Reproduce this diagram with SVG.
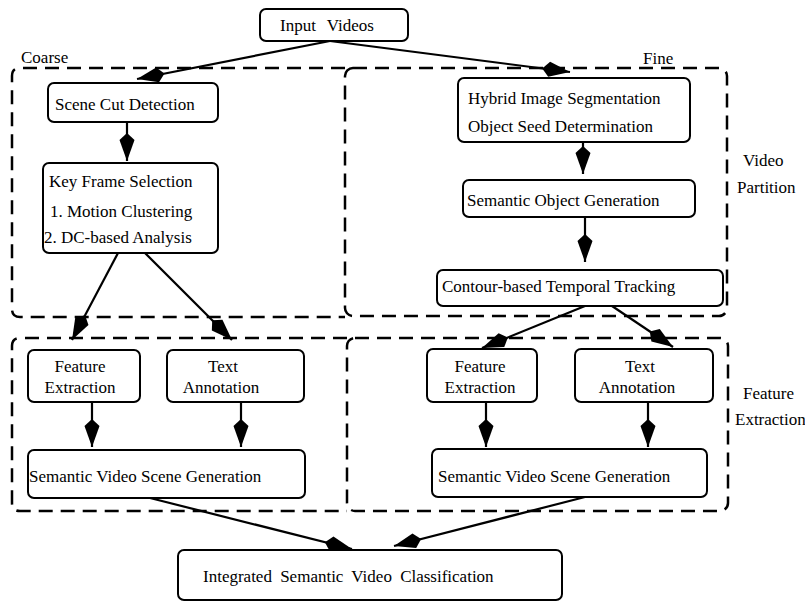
<svg xmlns="http://www.w3.org/2000/svg" width="805" height="602" viewBox="0 0 805 602">
  <style>
    text { font-family: "Liberation Serif", "Times New Roman", serif; font-size: 17px; fill: #000; }
    .box { fill: #fff; stroke: #000; stroke-width: 2; }
    .region { fill: none; stroke: #000; stroke-width: 2.5; stroke-dasharray: 14 8; }
    .edge { fill: none; stroke: #000; stroke-width: 2.2; marker-end: url(#kite); }
    .mid { text-anchor: middle; }
  </style>
  <defs>
    <marker id="kite" markerUnits="userSpaceOnUse" viewBox="0 -8 28 16" refX="28" refY="0" markerWidth="28" markerHeight="16" orient="auto">
      <path d="M0,0 L7,-7.5 L28,0 L7,7.5 Z" fill="#000"/>
    </marker>
  </defs>

  <!-- dashed regions -->
  <g id="regions">
    <path class="region" d="M345,68 H20 Q12,68 12,76 V309 Q12,317 20,317 H345"/>
    <rect class="region" x="345" y="68" width="382" height="248" rx="8"/>
    <path class="region" d="M347,338 H20 Q12,338 12,346 V503 Q12,511 20,511 H347"/>
    <rect class="region" x="347" y="338" width="381" height="173" rx="8"/>
    <text x="21" y="63" font-size="16">Coarse</text>
    <text x="643" y="64">Fine</text>
    <text x="743" y="166" font-size="18">Video</text>
    <text x="737" y="193" font-size="18">Partition</text>
    <text x="743" y="399" font-size="18">Feature</text>
    <text x="735" y="425" font-size="18">Extraction</text>
  </g>

  <!-- connectors -->
  <g id="connectors">
    <line class="edge" x1="330" y1="41" x2="137" y2="79"/>
    <line class="edge" x1="330" y1="41" x2="570" y2="72"/>
    <line class="edge" x1="127" y1="122" x2="127" y2="161"/>
    <line class="edge" x1="118" y1="253" x2="72" y2="340"/>
    <line class="edge" x1="145" y1="253" x2="232" y2="340"/>
    <line class="edge" x1="583" y1="142" x2="583" y2="174"/>
    <line class="edge" x1="585" y1="217" x2="585" y2="262"/>
    <line class="edge" x1="585" y1="306" x2="482" y2="348"/>
    <line class="edge" x1="612" y1="306" x2="673" y2="347"/>
    <line class="edge" x1="92" y1="402" x2="92" y2="447"/>
    <line class="edge" x1="241" y1="402" x2="241" y2="447"/>
    <line class="edge" x1="486" y1="402" x2="486" y2="447"/>
    <line class="edge" x1="648" y1="402" x2="648" y2="447"/>
    <line class="edge" x1="150" y1="498" x2="352" y2="549"/>
    <line class="edge" x1="585" y1="497" x2="394" y2="546"/>
  </g>

  <g id="input-videos">
    <rect class="box" x="260" y="9" width="148" height="32" rx="6"/>
    <text x="280" y="31" word-spacing="7">Input Videos</text>
  </g>

  <g id="scene-cut">
    <rect class="box" x="48" y="83" width="170" height="39" rx="6"/>
    <text x="55" y="110">Scene Cut Detection</text>
  </g>

  <g id="key-frame">
    <rect class="box" x="43" y="163" width="175" height="90" rx="6"/>
    <text x="49" y="187">Key Frame Selection</text>
    <text x="50" y="217">1. Motion Clustering</text>
    <text x="44" y="243">2. DC-based Analysis</text>
  </g>

  <g id="hybrid-segmentation">
    <rect class="box" x="458" y="78" width="232" height="64" rx="6"/>
    <text x="468" y="104">Hybrid Image Segmentation</text>
    <text x="468" y="132">Object Seed Determination</text>
  </g>

  <g id="semantic-object">
    <rect class="box" x="463" y="180" width="232" height="37" rx="6"/>
    <text x="467" y="206">Semantic Object Generation</text>
  </g>

  <g id="contour-tracking">
    <rect class="box" x="437" y="270" width="286" height="36" rx="6"/>
    <text x="442" y="292">Contour-based Temporal Tracking</text>
  </g>

  <g id="feature-left">
    <rect class="box" x="28" y="350" width="112" height="52" rx="6"/>
    <text class="mid" x="80" y="372">Feature</text>
    <text class="mid" x="80" y="393">Extraction</text>
  </g>

  <g id="text-left">
    <rect class="box" x="167" y="350" width="137" height="52" rx="6"/>
    <text class="mid" x="223" y="372">Text</text>
    <text class="mid" x="221" y="393">Annotation</text>
  </g>

  <g id="feature-right">
    <rect class="box" x="427" y="349" width="110" height="53" rx="6"/>
    <text class="mid" x="480" y="372">Feature</text>
    <text class="mid" x="480" y="393">Extraction</text>
  </g>

  <g id="text-right">
    <rect class="box" x="575" y="349" width="138" height="53" rx="6"/>
    <text class="mid" x="640" y="372">Text</text>
    <text class="mid" x="637" y="393">Annotation</text>
  </g>

  <g id="scene-left">
    <rect class="box" x="28" y="450" width="277" height="48" rx="6"/>
    <text x="29" y="482">Semantic Video Scene Generation</text>
  </g>

  <g id="scene-right">
    <rect class="box" x="432" y="449" width="275" height="48" rx="6"/>
    <text x="438" y="482">Semantic Video Scene Generation</text>
  </g>

  <g id="integrated">
    <rect class="box" x="178" y="550" width="384" height="50" rx="6"/>
    <text x="203" y="582" word-spacing="4">Integrated Semantic Video Classification</text>
  </g>
</svg>
